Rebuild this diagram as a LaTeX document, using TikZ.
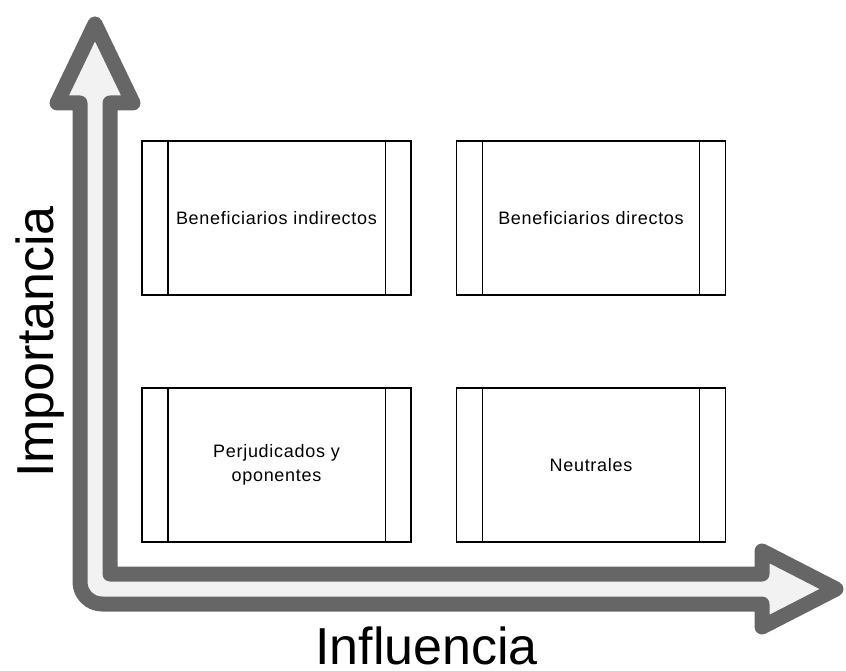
\documentclass[tikz,border=0pt]{standalone}
\usepackage{fontspec}
\setmainfont{Liberation Sans}
\newfontfamily\boxfont[LetterSpace=4]{Liberation Sans}
\definecolor{arrowgray}{HTML}{666666}
\definecolor{arrowfill}{HTML}{F2F2F2}
\begin{document}
\begin{tikzpicture}[x=1pt,y=1pt,
  quad/.style={draw=black, line width=1.3pt, minimum width=269pt, minimum height=154pt,
    inner sep=0pt, align=center, font=\boxfont\fontsize{18}{24}\selectfont},
  sidebar/.style={draw=black, line width=1.3pt},
  bigarrow/.style={draw=arrowgray, fill=arrowfill, line width=15pt, line join=round},
  axislabel/.style={font=\fontsize{52}{60}\selectfont, inner sep=0pt}]
\useasboundingbox (0,0) rectangle (846,670);
% L-shaped double arrow
\draw[bigarrow] (95,646) -- (133,567) -- (110,567) -- (110,96) -- (762,96) -- (762,119)
  -- (836,81) -- (762,43) -- (762,66) -- (102,66)
  arc[start angle=270, end angle=180, radius=22] -- (80,567) -- (57,567) -- cycle;
% quadrant boxes
\node[quad] (bi) at (276.5,452) {Beneficiarios indirectos};
\node[quad] (bd) at (591,452) {Beneficiarios directos};
\node[quad] (po) at (276.5,205) {Perjudicados y\\oponentes};
\node[quad] (ne) at (591,205) {Neutrales};
\foreach \n in {bi,bd,po,ne}{
  \draw[sidebar] ([xshift=26.5pt]\n.north west) -- ([xshift=26.5pt]\n.south west);
  \draw[sidebar] ([xshift=-26.5pt]\n.north east) -- ([xshift=-26.5pt]\n.south east);
}
% axis labels
\node[axislabel, rotate=90, anchor=base] (imp) at (53,328) {Importancia};
\node[axislabel, anchor=base] (inf) at (426.5,6) {Influencia};
\end{tikzpicture}
\end{document}
